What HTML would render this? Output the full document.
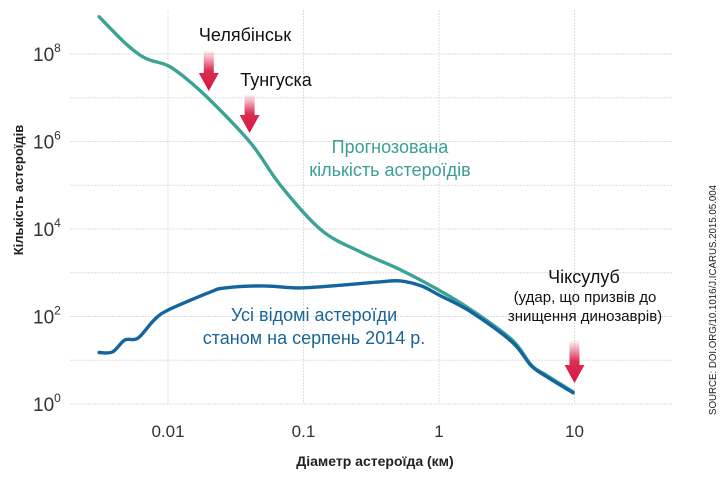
<!DOCTYPE html>
<html><head><meta charset="utf-8"><style>
body{margin:0;background:#fff;}
svg{display:block;font-family:"Liberation Sans","DejaVu Sans",sans-serif;}
</style></head><body>
<svg id="chart" width="720" height="484" viewBox="0 0 720 484">
<defs>
<linearGradient id="ag" x1="0" y1="0" x2="0" y2="1">
<stop offset="0" stop-color="#d8163f" stop-opacity="0"/>
<stop offset="0.5" stop-color="#d8163f" stop-opacity="0.9"/>
<stop offset="1" stop-color="#d8163f"/>
</linearGradient>
</defs>
<g id="grid"></g>
<g id="ticks"></g>
<g id="series"></g>
<g id="arrows"></g>
<text x="245" y="41" font-size="18" text-anchor="middle" fill="#111">Челябінськ</text>
<text x="276" y="86" font-size="18" text-anchor="middle" fill="#111">Тунгуска</text>
<text x="390" y="153" font-size="18" text-anchor="middle" fill="#3a9e94">Прогнозована</text>
<text x="390" y="176" font-size="18" text-anchor="middle" fill="#3a9e94">кількість астероїдів</text>
<text x="314" y="321" font-size="18" text-anchor="middle" fill="#1a6598">Усі відомі астероїди</text>
<text x="314" y="344" font-size="18" text-anchor="middle" fill="#1a6598">станом на серпень 2014 р.</text>
<text x="584" y="283" font-size="18" text-anchor="middle" fill="#111">Чіксулуб</text>
<text x="585" y="302" font-size="15" text-anchor="middle" fill="#111">(удар, що призвів до</text>
<text x="585" y="321" font-size="15" text-anchor="middle" fill="#111">знищення динозаврів)</text>
<text transform="translate(716,300) rotate(-90)" font-size="10.5" text-anchor="middle" fill="#222" textLength="230" lengthAdjust="spacingAndGlyphs">SOURCE: DOI.ORG/10.1016/J.ICARUS.2015.05.004</text>
<text transform="translate(23,190) rotate(-90)" font-size="13" font-weight="bold" text-anchor="middle" fill="#222">Кількість астероїдів</text>
<text x="375" y="466" font-size="14" font-weight="bold" text-anchor="middle" fill="#222">Діаметр астероїда (км)</text>
</svg>
<script>
const xTicks=[0.01,0.1,1,10];
const xTickLabels=["0.01","0.1","1","10"];
const yTickExp=[0,2,4,6,8];
const predD=[0.0031,0.0048,0.0062,0.0074,0.01,0.0135,0.0204,0.0407,0.0676,0.135,0.263,0.525,1,1.74,3.47,4.79,6.17,9.77];
const predN=[7.1e8,1.8e8,9.5e7,7.2e7,5.4e7,2.8e7,8.9e6,9.3e5,1.0e5,9.5e3,3.0e3,1.15e3,400,140,29,7.8,4.6,1.9];
const knownD=[0.0031,0.0039,0.0048,0.006,0.0079,0.01,0.0204,0.0263,0.05,0.095,0.19,0.37,0.52,0.74,1,1.74,3.47,4.79,6.17,9.77];
const knownN=[15,15.5,29,32,83,140,360,450,500,450,520,620,650,500,310,125,26,7.5,4.3,1.8];
const arrowsD=[0.02,0.04,10];
const arrowsTop=[50,94,340];
const arrowsTip=[91,133,383];
const NS="http://www.w3.org/2000/svg";
const X0=168,DX=135.5,Y0=404,DY=43.75;
const xs=d=>X0+(Math.log10(d)+2)*DX;
const ys=n=>Y0-Math.log10(n)*DY;
function mk(t,a,p){const e=document.createElementNS(NS,t);for(const k in a)e.setAttribute(k,a[k]);p.appendChild(e);return e;}
const grid=document.getElementById('grid'),ticks=document.getElementById('ticks'),series=document.getElementById('series'),arrows=document.getElementById('arrows');
for(let e=0;e<=8;e++){const y=ys(Math.pow(10,e));
const l=mk('line',{x1:70,x2:673,y1:y,y2:y,stroke:'#ddd','stroke-width':1,'stroke-dasharray':'2,1'},grid);

}
for(let i=-3;i<=1;i++){const x=X0+(i+2)*DX;if(x<70||x>673)continue;
const l=mk('line',{x1:x,x2:x,y1:10,y2:404,stroke:'#ddd','stroke-width':1,'stroke-dasharray':'2,1'},grid);

}
xTicks.forEach((v,i)=>{const t=mk('text',{x:xs(v),y:437,'font-size':17,'text-anchor':'middle',fill:'#333'},ticks);t.textContent=xTickLabels[i];

});
yTickExp.forEach(e=>{const t=mk('text',{x:33,y:ys(Math.pow(10,e))+7,'font-size':19,fill:'#333'},ticks);
t.innerHTML='10<tspan dy="-9" font-size="12">'+e+'</tspan>';

});
function line(D,N,c,name){const P=D.map((v,i)=>[xs(v),ys(N[i])]);
let d='M'+P[0][0].toFixed(1)+','+P[0][1].toFixed(1);
for(let i=0;i<P.length-1;i++){const p0=P[Math.max(0,i-1)],p1=P[i],p2=P[i+1],p3=P[Math.min(P.length-1,i+2)];
const c1=[p1[0]+(p2[0]-p0[0])/6,p1[1]+(p2[1]-p0[1])/6],c2=[p2[0]-(p3[0]-p1[0])/6,p2[1]-(p3[1]-p1[1])/6];
d+=`C${c1[0].toFixed(1)},${c1[1].toFixed(1)} ${c2[0].toFixed(1)},${c2[1].toFixed(1)} ${p2[0].toFixed(1)},${p2[1].toFixed(1)}`;}
const p=mk('path',{d:d,fill:'none',stroke:c,'stroke-width':3.4,'stroke-linejoin':'round','stroke-linecap':'round'},series);

}
line(predD,predN,'#3aa394','predicted-line');
line(knownD,knownN,'#14659e','known-line');
arrowsD.forEach((d,i)=>{const x=xs(d),t=arrowsTop[i],b=arrowsTip[i],h=b-18;
const p=mk('path',{d:`M${x-5},${t}L${x+5},${t}L${x+5},${h}L${x+10},${h}L${x},${b}L${x-10},${h}L${x-5},${h}Z`,fill:'url(#ag)'},arrows);

});
</script>
</body></html>
